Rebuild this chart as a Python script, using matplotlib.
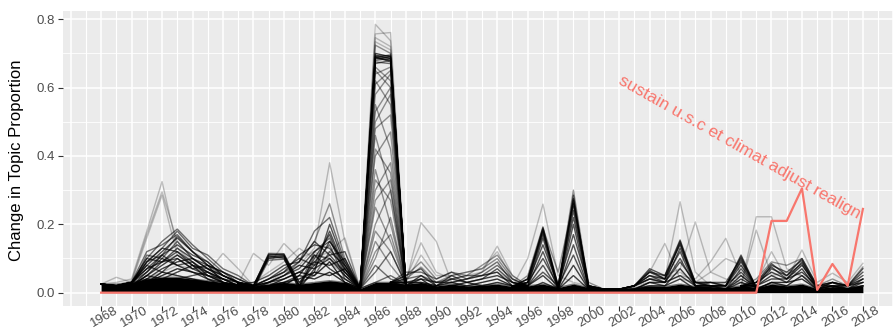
import numpy as np
import matplotlib.pyplot as plt

plt.rcParams['font.family'] = ['Liberation Sans', 'DejaVu Sans']

years = np.arange(1968, 2019)

# top of the solid mass of topics sitting near zero, 1968-2018
floor_top = [0.025, 0.025, 0.030, 0.040, 0.045, 0.045, 0.040, 0.035, 0.030, 0.025,
             0.020, 0.025, 0.030, 0.025, 0.030, 0.035, 0.030, 0.012, 0.030, 0.030,
             0.025, 0.030, 0.020, 0.025, 0.020, 0.022, 0.025, 0.018, 0.020, 0.025,
             0.015, 0.025, 0.015, 0.010, 0.010, 0.015, 0.020, 0.018, 0.025, 0.018,
             0.018, 0.015, 0.020, 0.015, 0.025, 0.020, 0.025, 0.012, 0.018, 0.015, 0.020]

# each row: number of topics following that path, then one value per year
ep1_years = list(range(1969, 1978))
ep1_rows = [
    [1, 0.03, 0.04, 0.18, 0.325, 0.13, 0.09, 0.06, 0.04, 0.03],
    [1, 0.02, 0.035, 0.17, 0.295, 0.15, 0.10, 0.07, 0.05, 0.03],
    [1, 0.02, 0.03, 0.16, 0.285, 0.11, 0.08, 0.05, 0.03, 0.02],
    [3, 0.02, 0.03, 0.10, 0.15, 0.186, 0.14, 0.10, 0.06, 0.04],
    [3, 0.02, 0.03, 0.09, 0.13, 0.18, 0.13, 0.11, 0.07, 0.05],
    [3, 0.02, 0.03, 0.12, 0.14, 0.17, 0.12, 0.09, 0.05, 0.03],
    [4, 0.02, 0.03, 0.08, 0.12, 0.16, 0.12, 0.08, 0.06, 0.04],
    [3, 0.02, 0.02, 0.11, 0.10, 0.15, 0.10, 0.07, 0.05, 0.03],
    [4, 0.02, 0.03, 0.06, 0.11, 0.14, 0.11, 0.09, 0.05, 0.03],
    [4, 0.02, 0.02, 0.09, 0.13, 0.12, 0.09, 0.06, 0.04, 0.03],
    [4, 0.02, 0.03, 0.07, 0.09, 0.13, 0.10, 0.08, 0.06, 0.03],
    [5, 0.01, 0.02, 0.05, 0.08, 0.11, 0.08, 0.06, 0.04, 0.02],
    [4, 0.02, 0.03, 0.08, 0.06, 0.10, 0.07, 0.05, 0.03, 0.02],
    [5, 0.01, 0.02, 0.04, 0.07, 0.09, 0.10, 0.07, 0.04, 0.02],
    [5, 0.02, 0.02, 0.06, 0.10, 0.08, 0.06, 0.04, 0.03, 0.02],
    [6, 0.01, 0.02, 0.03, 0.05, 0.07, 0.06, 0.05, 0.03, 0.02],
    [5, 0.01, 0.02, 0.05, 0.04, 0.06, 0.08, 0.04, 0.02, 0.02],
    [6, 0.01, 0.02, 0.03, 0.06, 0.05, 0.04, 0.03, 0.02, 0.01],
    [4, 0.02, 0.02, 0.04, 0.03, 0.04, 0.05, 0.06, 0.03, 0.02],
    [6, 0.01, 0.01, 0.02, 0.04, 0.03, 0.03, 0.02, 0.02, 0.01],
    [1, 0.02, 0.02, 0.04, 0.06, 0.08, 0.07, 0.06, 0.115, 0.07],
    [1, 0.045, 0.03, 0.07, 0.09, 0.11, 0.09, 0.05, 0.04, 0.03],
    [4, 0.02, 0.03, 0.10, 0.09, 0.12, 0.08, 0.07, 0.05, 0.03],
    [4, 0.02, 0.03, 0.07, 0.11, 0.08, 0.09, 0.05, 0.04, 0.02],
    [4, 0.02, 0.02, 0.05, 0.09, 0.10, 0.07, 0.08, 0.03, 0.02],
    [3, 0.02, 0.03, 0.09, 0.11, 0.165, 0.12, 0.08, 0.05, 0.03],
]

ep2_years = list(range(1978, 1985))
ep2_rows = [
    [1, 0.02, 0.03, 0.06, 0.08, 0.13, 0.38, 0.15],
    [2, 0.02, 0.03, 0.05, 0.09, 0.15, 0.26, 0.10],
    [4, 0.02, 0.110, 0.112, 0.02, 0.06, 0.20, 0.08],
    [4, 0.02, 0.112, 0.110, 0.03, 0.08, 0.18, 0.07],
    [4, 0.01, 0.105, 0.108, 0.02, 0.10, 0.17, 0.06],
    [4, 0.02, 0.100, 0.104, 0.01, 0.07, 0.15, 0.09],
    [3, 0.01, 0.108, 0.100, 0.02, 0.12, 0.16, 0.05],
    [3, 0.02, 0.115, 0.114, 0.03, 0.05, 0.12, 0.08],
    [3, 0.01, 0.095, 0.098, 0.02, 0.09, 0.14, 0.04],
    [3, 0.02, 0.102, 0.106, 0.01, 0.11, 0.10, 0.06],
    [1, 0.115, 0.08, 0.144, 0.10, 0.12, 0.09, 0.05],
    [1, 0.03, 0.06, 0.09, 0.13, 0.10, 0.12, 0.16],
    [4, 0.02, 0.04, 0.06, 0.11, 0.14, 0.13, 0.07],
    [4, 0.03, 0.05, 0.08, 0.09, 0.15, 0.11, 0.06],
    [4, 0.02, 0.03, 0.05, 0.07, 0.12, 0.15, 0.08],
    [4, 0.02, 0.04, 0.07, 0.10, 0.08, 0.11, 0.12],
    [5, 0.02, 0.03, 0.04, 0.06, 0.09, 0.08, 0.10],
    [5, 0.01, 0.03, 0.05, 0.08, 0.07, 0.10, 0.05],
    [5, 0.02, 0.02, 0.03, 0.05, 0.11, 0.07, 0.04],
    [6, 0.01, 0.02, 0.04, 0.06, 0.05, 0.09, 0.03],
    [6, 0.01, 0.02, 0.03, 0.04, 0.06, 0.05, 0.07],
    [6, 0.01, 0.02, 0.02, 0.05, 0.04, 0.06, 0.03],
    [3, 0.02, 0.04, 0.06, 0.09, 0.18, 0.22, 0.09],
]

ep3_years = [1986, 1987]
ep3_rows = [
    [1, 0.785, 0.737], [1, 0.757, 0.761], [1, 0.746, 0.720], [1, 0.734, 0.710],
    [2, 0.724, 0.700], [5, 0.700, 0.690], [5, 0.695, 0.685], [5, 0.690, 0.695],
    [5, 0.688, 0.680], [5, 0.685, 0.690], [4, 0.690, 0.675], [4, 0.680, 0.685],
    [3, 0.675, 0.670], [3, 0.670, 0.680], [2, 0.660, 0.620], [2, 0.640, 0.660],
    [2, 0.620, 0.550], [2, 0.580, 0.640], [2, 0.550, 0.420], [2, 0.500, 0.580],
    [2, 0.460, 0.300], [2, 0.400, 0.470], [2, 0.360, 0.200], [2, 0.300, 0.380],
    [2, 0.250, 0.150], [2, 0.200, 0.300], [2, 0.150, 0.080], [2, 0.100, 0.220],
    [3, 0.060, 0.120], [3, 0.030, 0.050], [2, 0.650, 0.600], [2, 0.610, 0.650],
    [2, 0.530, 0.600], [2, 0.480, 0.520], [2, 0.420, 0.350], [2, 0.330, 0.270],
    [2, 0.270, 0.330], [2, 0.180, 0.120], [2, 0.120, 0.170], [3, 0.080, 0.040],
]

ep4_years = list(range(1988, 1996))
ep4_rows = [
    [1, 0.03, 0.205, 0.15, 0.03, 0.04, 0.05, 0.06, 0.03],
    [1, 0.04, 0.146, 0.06, 0.04, 0.05, 0.06, 0.136, 0.05],
    [1, 0.03, 0.11, 0.05, 0.05, 0.06, 0.07, 0.12, 0.04],
    [2, 0.05, 0.09, 0.04, 0.06, 0.05, 0.08, 0.11, 0.05],
    [2, 0.04, 0.075, 0.03, 0.05, 0.06, 0.07, 0.10, 0.04],
    [3, 0.06, 0.06, 0.04, 0.06, 0.04, 0.06, 0.09, 0.03],
    [3, 0.04, 0.05, 0.03, 0.04, 0.05, 0.05, 0.08, 0.04],
    [4, 0.05, 0.07, 0.02, 0.05, 0.03, 0.04, 0.07, 0.03],
    [5, 0.03, 0.04, 0.03, 0.03, 0.04, 0.05, 0.06, 0.02],
    [5, 0.02, 0.05, 0.02, 0.04, 0.03, 0.04, 0.05, 0.03],
    [6, 0.03, 0.03, 0.02, 0.03, 0.02, 0.03, 0.04, 0.02],
    [6, 0.02, 0.04, 0.01, 0.02, 0.03, 0.02, 0.03, 0.02],
]

ep5_years = list(range(1996, 2001))
ep5_rows = [
    [1, 0.10, 0.259, 0.05, 0.03, 0.02],
    [2, 0.05, 0.193, 0.02, 0.300, 0.02],
    [4, 0.04, 0.190, 0.01, 0.285, 0.01],
    [4, 0.03, 0.185, 0.02, 0.275, 0.02],
    [5, 0.04, 0.180, 0.01, 0.270, 0.01],
    [4, 0.03, 0.170, 0.02, 0.260, 0.02],
    [4, 0.02, 0.160, 0.01, 0.240, 0.01],
    [4, 0.03, 0.140, 0.02, 0.220, 0.02],
    [4, 0.02, 0.120, 0.01, 0.200, 0.01],
    [4, 0.03, 0.100, 0.02, 0.170, 0.02],
    [4, 0.02, 0.080, 0.01, 0.140, 0.01],
    [4, 0.02, 0.060, 0.02, 0.110, 0.01],
    [5, 0.02, 0.050, 0.01, 0.080, 0.01],
    [5, 0.01, 0.030, 0.01, 0.050, 0.01],
    [2, 0.04, 0.188, 0.06, 0.262, 0.03],
    [2, 0.03, 0.176, 0.02, 0.252, 0.02],
]

ep6_years = list(range(2001, 2011))
ep6_rows = [
    [1, 0.01, 0.01, 0.02, 0.06, 0.144, 0.04, 0.03, 0.02, 0.02, 0.03],
    [1, 0.01, 0.01, 0.02, 0.05, 0.04, 0.266, 0.06, 0.02, 0.03, 0.05],
    [1, 0.01, 0.01, 0.02, 0.04, 0.05, 0.07, 0.207, 0.06, 0.04, 0.03],
    [1, 0.01, 0.01, 0.02, 0.03, 0.03, 0.05, 0.04, 0.09, 0.159, 0.05],
    [1, 0.01, 0.01, 0.02, 0.04, 0.04, 0.06, 0.03, 0.06, 0.10, 0.08],
    [4, 0.01, 0.01, 0.02, 0.07, 0.05, 0.154, 0.03, 0.03, 0.02, 0.11],
    [4, 0.01, 0.01, 0.02, 0.065, 0.04, 0.15, 0.02, 0.02, 0.02, 0.105],
    [4, 0.01, 0.01, 0.02, 0.06, 0.04, 0.145, 0.03, 0.03, 0.03, 0.10],
    [4, 0.01, 0.01, 0.02, 0.06, 0.05, 0.14, 0.02, 0.02, 0.02, 0.095],
    [4, 0.01, 0.01, 0.02, 0.05, 0.03, 0.13, 0.03, 0.02, 0.02, 0.09],
    [4, 0.01, 0.01, 0.02, 0.05, 0.04, 0.12, 0.02, 0.03, 0.02, 0.08],
    [4, 0.01, 0.01, 0.02, 0.04, 0.03, 0.10, 0.02, 0.02, 0.01, 0.07],
    [4, 0.01, 0.01, 0.02, 0.04, 0.03, 0.09, 0.03, 0.02, 0.02, 0.06],
    [5, 0.01, 0.01, 0.01, 0.03, 0.02, 0.07, 0.02, 0.02, 0.01, 0.05],
    [5, 0.01, 0.01, 0.01, 0.03, 0.03, 0.05, 0.02, 0.01, 0.01, 0.04],
    [5, 0.01, 0.01, 0.01, 0.02, 0.02, 0.04, 0.01, 0.01, 0.01, 0.03],
]

ep7_years = list(range(2011, 2019))
ep7_rows = [
    [1, 0.222, 0.222, 0.07, 0.05, 0.02, 0.03, 0.02, 0.03],
    [1, 0.183, 0.05, 0.06, 0.05, 0.02, 0.03, 0.02, 0.04],
    [1, 0.03, 0.12, 0.04, 0.125, 0.03, 0.057, 0.03, 0.086],
    [2, 0.04, 0.09, 0.08, 0.10, 0.02, 0.04, 0.02, 0.075],
    [4, 0.03, 0.085, 0.05, 0.10, 0.02, 0.03, 0.02, 0.07],
    [4, 0.02, 0.08, 0.06, 0.095, 0.01, 0.03, 0.02, 0.06],
    [4, 0.03, 0.075, 0.04, 0.09, 0.02, 0.02, 0.02, 0.05],
    [4, 0.02, 0.07, 0.05, 0.085, 0.01, 0.03, 0.01, 0.04],
    [5, 0.03, 0.06, 0.04, 0.08, 0.02, 0.02, 0.02, 0.04],
    [5, 0.02, 0.05, 0.03, 0.07, 0.01, 0.02, 0.01, 0.03],
    [5, 0.02, 0.04, 0.04, 0.06, 0.02, 0.03, 0.02, 0.03],
    [6, 0.01, 0.03, 0.02, 0.05, 0.01, 0.02, 0.01, 0.02],
    [6, 0.01, 0.03, 0.03, 0.04, 0.01, 0.02, 0.01, 0.02],
]

highlight_label = "sustain u.s.c et climat adjust realign"
highlight_vals = [0.0] * 44 + [0.21, 0.21, 0.305, 0.008, 0.084, 0.02, 0.245]

episodes = [(ep1_years, ep1_rows), (ep2_years, ep2_rows), (ep3_years, ep3_rows),
            (ep4_years, ep4_rows), (ep5_years, ep5_rows), (ep6_years, ep6_rows),
            (ep7_years, ep7_rows)]

fig = plt.figure(figsize=(8.93, 3.29), dpi=100)
ax = fig.add_axes([63 / 893, 23 / 329, 838 / 893, 295 / 329])
ax.set_facecolor('#EBEBEB')
for s in ax.spines.values():
    s.set_visible(False)

# grid by hand: a line every year, every 0.1 on y
for yr in range(1966, 2021):
    ax.axvline(yr, color='white', lw=1.1 if yr % 2 == 0 else 0.8, zorder=0)
for yv in np.arange(0, 0.81, 0.1):
    major = round(yv * 10) % 2 == 0
    ax.axhline(yv, color='white', lw=1.1 if major else 0.6, zorder=0)

ax.fill_between(years, 0, floor_top, color='black', lw=0, zorder=2)
ax.plot(years, floor_top, color='black', alpha=0.5, lw=1.0, zorder=2)

# each path leaves the bulk the year before and rejoins it the year after
for yrs, rows in episodes:
    first = yrs[0] - years[0]
    last = yrs[-1] - years[0]
    for row in rows:
        n, vals = row[0], row[1:]
        xs = list(yrs)
        ys = list(vals)
        if first > 0:
            xs.insert(0, years[first - 1])
            ys.insert(0, floor_top[first - 1])
        if last < len(years) - 1:
            xs.append(years[last + 1])
            ys.append(floor_top[last + 1])
        ax.plot(xs, ys, color='black', alpha=1 - 0.77 ** n, lw=1.0, zorder=2)

ax.plot(years, highlight_vals, color='#F8766D', lw=1.6, zorder=3)
ax.text(years[-1], highlight_vals[-1], highlight_label, color='#F8766D',
        fontsize=12.5, rotation=-29.5, rotation_mode='anchor',
        ha='right', va='top', zorder=4)

ax.set_xlim(1965.5, 2020.5)
ax.set_ylim(-0.039, 0.824)
ax.set_xticks(np.arange(1968, 2019, 2))
ax.set_xticklabels([str(y) for y in range(1968, 2019, 2)], rotation=30,
                   rotation_mode='anchor', ha='center', va='top')
ax.set_yticks([0, 0.2, 0.4, 0.6, 0.8])
ax.set_yticklabels(['0.0', '0.2', '0.4', '0.6', '0.8'])
ax.tick_params(axis='both', colors='#333333', labelcolor='#4D4D4D',
               length=3.5, width=0.8, labelsize=9.5, pad=2)
ax.tick_params(axis='x', labelsize=9.5, pad=1)

fig.text(17 / 893, 1 - 160 / 329, 'Change in Topic Proportion', rotation=90,
         ha='center', va='center', fontsize=12)

fig.savefig('out.png', dpi=100)
